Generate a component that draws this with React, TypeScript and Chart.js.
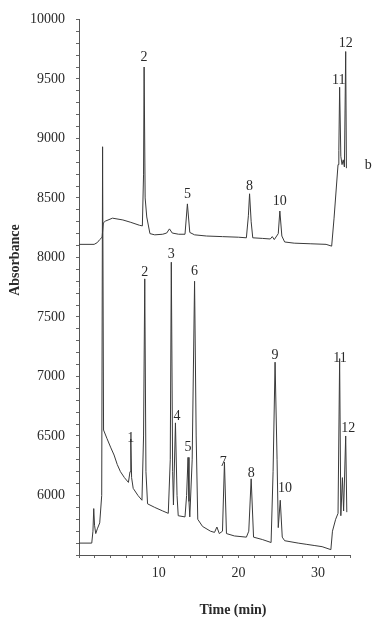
import React, { useEffect, useRef } from "react";
import { Chart, registerables } from "chart.js";
Chart.register(...registerables);

// Upper chromatogram (b)
const upperTime = [0, 1.9, 2.3, 2.6, 2.9, 3.05, 3.3, 4.2, 5.5, 6.5, 7.6, 7.95, 8.1, 8.17, 8.3, 8.5, 8.9, 9.5, 10.5, 11.0, 11.35, 11.7, 12.5, 13.3, 13.6, 13.9, 14.5, 16.0, 18.0, 20.0, 21.0, 21.25, 21.4, 21.6, 21.8, 23.0, 24.0, 24.25, 24.5, 25.0, 25.2, 25.45, 25.8, 27.0, 29.0, 31.0, 31.7, 32.0, 32.5, 32.6, 32.7, 32.85, 33.0, 33.15, 33.3, 33.46, 33.55];
const upperAbs = [8110, 8110, 8125, 8150, 8170, 8290, 8305, 8330, 8315, 8295, 8270, 8265, 8700, 9600, 8500, 8340, 8200, 8190, 8195, 8205, 8240, 8205, 8195, 8195, 8450, 8210, 8190, 8180, 8175, 8170, 8165, 8350, 8535, 8300, 8165, 8160, 8155, 8175, 8150, 8200, 8390, 8180, 8130, 8120, 8115, 8110, 8095, 8330, 8780, 8900, 9430, 8850, 8780, 8820, 8760, 9730, 8750];

// Lower chromatogram (a)
const lowerTime = [0, 1.6, 1.75, 1.85, 1.95, 2.1, 2.3, 2.6, 2.85, 2.96, 3.08, 3.5, 4.0, 4.4, 4.8, 5.2, 5.7, 6.2, 6.4, 6.5, 6.6, 6.8, 7.4, 7.9, 8.1, 8.25, 8.4, 8.6, 9.5, 10.5, 11.2, 11.45, 11.58, 11.75, 11.85, 12.1, 12.3, 12.45, 13.3, 13.5, 13.68, 13.8, 13.9, 14.2, 14.5, 14.7, 14.9, 15.5, 16.5, 17.0, 17.3, 17.6, 18.0, 18.25, 18.5, 19.5, 21.0, 21.3, 21.6, 21.9, 23.0, 24.1, 24.35, 24.6, 24.85, 25.0, 25.25, 25.5, 25.8, 27.5, 28.5, 29.5, 30.5, 31.6, 31.8, 32.2, 32.5, 32.7, 32.85, 33.05, 33.2, 33.46, 33.6];
const lowerAbs = [5600, 5600, 5700, 5890, 5750, 5680, 5720, 5770, 6000, 8930, 6550, 6480, 6400, 6340, 6260, 6200, 6150, 6110, 6200, 6475, 6150, 6060, 6000, 5960, 6500, 7820, 6200, 5930, 5900, 5870, 5850, 6300, 7960, 6200, 5920, 6610, 6000, 5830, 5820, 6000, 6320, 5950, 5820, 6300, 7800, 6500, 5800, 5740, 5700, 5690, 5735, 5680, 5700, 6280, 5680, 5660, 5650, 5700, 6140, 5650, 5630, 5605, 6200, 7120, 6300, 5730, 5960, 5650, 5620, 5600, 5590, 5580, 5570, 5545, 5700, 5800, 5850, 7150, 5830, 6150, 5870, 6500, 5860];

// Peak number labels
const upperPeakIds = ["2", "5", "8", "10", "11", "12"];
const upperPeakTime = [8.17, 13.6, 21.4, 25.2, 32.6, 33.46];
const upperPeakLabelAbs = [9681, 8534, 8599, 8473, 9488, 9801];

const lowerPeakIds = ["1", "2", "3", "4", "5", "6", "7", "8", "9", "10", "11", "12"];
const lowerPeakTime = [6.5, 8.25, 11.58, 12.29, 13.67, 14.5, 18.1, 21.6, 24.6, 25.84, 32.75, 33.79];
const lowerPeakLabelAbs = [6482, 7871, 8026, 6669, 6404, 7886, 6282, 6188, 7181, 6063, 7153, 6566];

const traceNames = ["b"];
const traceNameTime = [36.3];
const traceNameAbs = [8775];

const xTickLabels = [10, 20, 30];
const yTickLabels = [6000, 6500, 7000, 7500, 8000, 8500, 9000, 9500, 10000];

const FONT = "'Liberation Serif', 'Times New Roman', serif";
const LINE = "#3a3a3a";
const TEXT = "#2a2a2a";

const toPts = (xs: number[], ys: number[]) => xs.map((x, i) => ({ x, y: ys[i] }));

const labelPlugin = {
  id: "peakLabels",
  afterDraw(chart: any) {
    const ctx = chart.ctx;
    const xs = chart.scales.x;
    const ys = chart.scales.y;
    ctx.save();
    ctx.fillStyle = TEXT;
    ctx.textAlign = "center";
    ctx.textBaseline = "middle";
    ctx.font = `14px ${FONT}`;
    const draw = (ids: string[], t: number[], a: number[]) =>
      ids.forEach((s, i) => ctx.fillText(s, xs.getPixelForValue(t[i]), ys.getPixelForValue(a[i])));
    draw(upperPeakIds, upperPeakTime, upperPeakLabelAbs);
    draw(lowerPeakIds, lowerPeakTime, lowerPeakLabelAbs);
    draw(traceNames, traceNameTime, traceNameAbs);

    // axis titles
    ctx.font = `bold 14px ${FONT}`;
    ctx.fillText("Time (min)", 233, 610);
    ctx.translate(15, 260);
    ctx.rotate(-Math.PI / 2);
    ctx.fillText("Absorbance", 0, 0);
    ctx.restore();
  },
};

export default function App() {
  const ref = useRef<HTMLCanvasElement>(null);
  useEffect(() => {
    if (!ref.current) return;
    const chart = new Chart(ref.current, {
      type: "line",
      data: {
        datasets: [
          { label: "b", data: toPts(upperTime, upperAbs), borderColor: LINE, borderWidth: 1, pointRadius: 0, tension: 0, fill: false },
          { label: "a", data: toPts(lowerTime, lowerAbs), borderColor: LINE, borderWidth: 1, pointRadius: 0, tension: 0, fill: false },
        ],
      },
      options: {
        animation: false,
        responsive: true,
        maintainAspectRatio: false,
        layout: { padding: { top: 18, right: 23, left: 0, bottom: 0 } },
        plugins: { legend: { display: false }, tooltip: { enabled: false } },
        scales: {
          x: {
            type: "linear",
            min: 0,
            max: 34,
            afterFit: (s: any) => { s.height = 67; },
            border: { color: "#555", width: 1 },
            grid: { drawOnChartArea: false, drawTicks: true, tickLength: 3, color: "#666" },
            ticks: {
              stepSize: 2,
              autoSkip: false,
              maxRotation: 0,
              padding: 7,
              color: TEXT,
              font: { family: FONT, size: 14 },
              callback: (v: any) => (xTickLabels.includes(Number(v)) ? String(v) : ""),
            },
          },
          y: {
            min: 5500,
            max: 10000,
            afterFit: (s: any) => { s.width = 79; },
            border: { color: "#555", width: 1 },
            grid: { drawOnChartArea: false, drawTicks: true, tickLength: 3, color: "#666" },
            ticks: {
              stepSize: 100,
              autoSkip: false,
              padding: 11,
              color: TEXT,
              font: { family: FONT, size: 14 },
              callback: (v: any) => (yTickLabels.includes(Number(v)) ? String(v) : ""),
            },
          },
        },
      },
      plugins: [labelPlugin],
    });
    return () => chart.destroy();
  }, []);
  return (
    <div style={{ position: "absolute", left: 0, top: 0, width: 373, height: 622, background: "#fff" }}>
      <canvas ref={ref} />
    </div>
  );
}
